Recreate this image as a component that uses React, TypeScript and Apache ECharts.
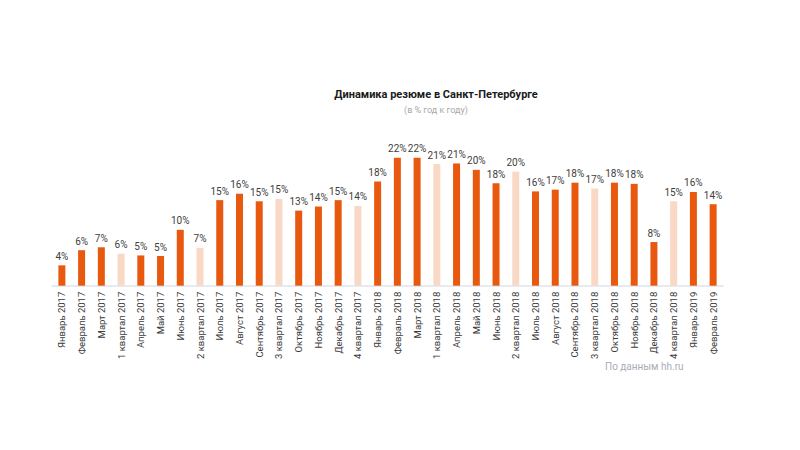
import React, { useEffect, useRef } from "react";
import * as echarts from "echarts";

const categories: string[] = [
  "Январь 2017", "Февраль 2017", "Март 2017", "1 квартал 2017",
  "Апрель 2017", "Май 2017", "Июнь 2017", "2 квартал 2017",
  "Июль 2017", "Август 2017", "Сентябрь 2017", "3 квартал 2017",
  "Октябрь 2017", "Ноябрь 2017", "Декабрь 2017", "4 квартал 2017",
  "Январь 2018", "Февраль 2018", "Март 2018", "1 квартал 2018",
  "Апрель 2018", "Май 2018", "Июнь 2018", "2 квартал 2018",
  "Июль 2018", "Август 2018", "Сентябрь 2018", "3 квартал 2018",
  "Октябрь 2018", "Ноябрь 2018", "Декабрь 2018", "4 квартал 2018",
  "Январь 2019", "Февраль 2019",
];

const values: number[] = [
  3.5, 6.1, 6.6, 5.5, 5.2, 5.1, 9.6, 6.5,
  14.7, 15.8, 14.5, 14.9, 12.9, 13.6, 14.7, 13.7,
  17.9, 22.0, 22.0, 20.9, 21.0, 19.9, 17.6, 19.6,
  16.2, 16.5, 17.7, 16.7, 17.7, 17.5, 7.5, 14.5,
  16.1, 14.0,
];

const TITLE = "Динамика резюме в Санкт-Петербурге";
const SUBTITLE = "(в % год к году)";
const SOURCE = "По данным hh.ru";

const MONTH_COLOR = "#E8590F";
const QUARTER_COLOR = "#F9D9C6";

export default function App() {
  const ref = useRef<HTMLDivElement>(null);
  useEffect(() => {
    if (!ref.current) return;
    const chart = echarts.init(ref.current, undefined, { renderer: "svg" });
    chart.setOption({
      animation: false,
      backgroundColor: "#ffffff",
      title: [
        {
          text: TITLE,
          left: 423,
          top: 76,
          textAlign: "center",
          textStyle: { fontFamily: "Roboto", fontWeight: "bold", fontSize: 11, color: "#1a1a1a" },
        },
        {
          text: SUBTITLE,
          left: 423,
          top: 92,
          textAlign: "center",
          textStyle: { fontFamily: "Roboto", fontWeight: "normal", fontSize: 9, color: "#a8a8a8" },
        },
      ],
      graphic: [
        {
          type: "text",
          left: 597,
          top: 353,
          style: { text: SOURCE, fontFamily: "Roboto", fontSize: 10, fill: "#a8adb8" },
        },
      ],
      grid: { left: 44, width: 671, top: 138, bottom: 172.3, containLabel: false },
      xAxis: {
        type: "category",
        data: categories,
        axisLine: { lineStyle: { color: "#dfe3ea", width: 1.5 } },
        axisTick: { show: false },
        axisLabel: {
          interval: 0,
          rotate: 90,
          margin: 6,
          fontFamily: "Roboto",
          fontSize: 9.5,
          color: "#3a3a3a",
        },
      },
      yAxis: {
        type: "value",
        min: 0,
        max: 24,
        show: false,
        splitLine: { show: false },
      },
      series: [
        {
          type: "bar",
          data: values,
          barWidth: 7,
          itemStyle: {
            color: (p: any) =>
              categories[p.dataIndex].includes("квартал") ? QUARTER_COLOR : MONTH_COLOR,
          },
          label: {
            show: true,
            position: "top",
            distance: 4,
            fontFamily: "Roboto",
            fontSize: 10,
            color: "#404040",
            formatter: (p: any) => Math.round(p.value) + "%",
          },
        },
      ],
    });
    return () => chart.dispose();
  }, []);
  return <div ref={ref} style={{ width: 800, height: 450 }} />;
}
